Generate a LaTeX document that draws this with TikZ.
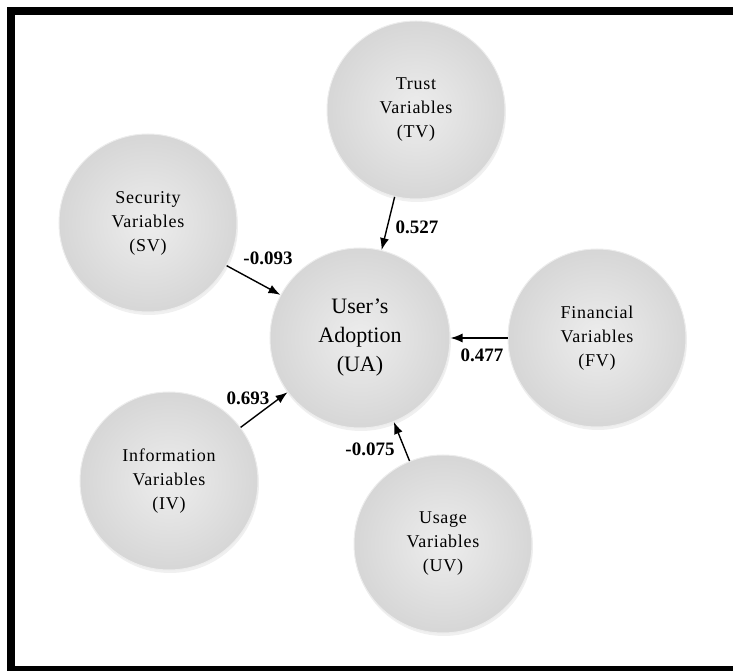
\documentclass[tikz,border=0pt]{standalone}
\usepackage{fontspec}
\setmainfont{Liberation Serif}
\usetikzlibrary{positioning,arrows.meta,shadows}

\begin{document}
\begin{tikzpicture}[x=1pt, y=1pt, on grid,
  var/.style={circle, minimum size=178pt, inner sep=0pt, align=center, shading=radial, inner color=gray!14, outer color=gray!32, draw=gray!15, line width=1pt, font=\fontsize{18}{24}\selectfont\addfontfeature{LetterSpace=4}, drop shadow={opacity=0.12, shadow xshift=1pt, shadow yshift=-3pt}},
  coef/.style={font=\fontsize{19}{22}\selectfont\bfseries, inner sep=0pt},
  link/.style={-{Latex[length=12pt,width=9pt]}, line width=1.4pt}]
  \useasboundingbox (-360,-333) rectangle (373,338);
  \draw[line width=8pt] (390,327) -- (-349,327) -- (-349,-332) -- (390,-332);

  \node[var, minimum size=180pt, font=\fontsize{22}{29}\selectfont] (ua) {User's\\Adoption\\(UA)};
  \node[var] (tv) [above right=228pt and 56pt of ua] {Trust\\Variables\\(TV)};
  \node[var] (sv) [above left=115pt and 212pt of ua] {Security\\Variables\\(SV)};
  \node[var] (fv) [right=237pt of ua] {Financial\\Variables\\(FV)};
  \node[var] (iv) [below left=143pt and 191pt of ua] {Information\\Variables\\(IV)};
  \node[var] (uv) [below right=206pt and 83pt of ua] {Usage\\Variables\\(UV)};

  \node[coef] (wtv) [above right=111pt and 57pt of ua] {0.527};
  \node[coef] (wsv) [above left=80pt and 92pt of ua] {-0.093};
  \node[coef] (wfv) [below right=17pt and 122pt of ua] {0.477};
  \node[coef] (wiv) [below left=60pt and 112pt of ua] {0.693};
  \node[coef] (wuv) [below right=111pt and 10pt of ua] {-0.075};

  \draw[link] (tv) -- (ua);
  \draw[link] (sv) -- (ua);
  \draw[link] (fv) -- (ua);
  \draw[link] (iv) -- (ua);
  \draw[link] (uv) -- (ua);
\end{tikzpicture}
\end{document}
